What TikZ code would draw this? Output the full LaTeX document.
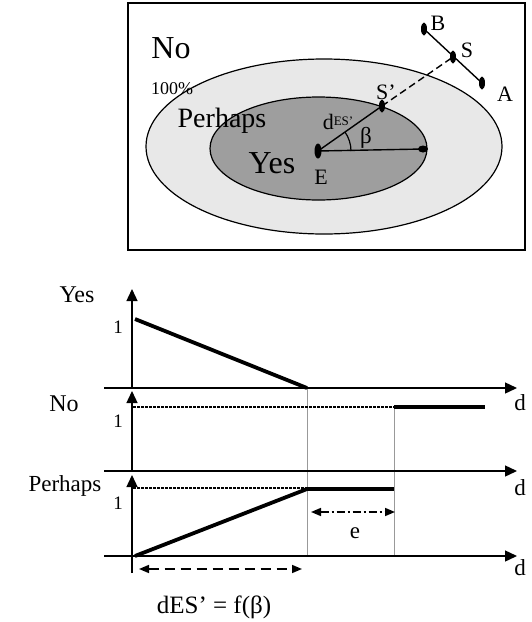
\documentclass[tikz,border=0pt]{standalone}
\usepackage{fontspec}
\setmainfont{Liberation Serif}
\usetikzlibrary{arrows.meta,shapes.geometric}
\begin{document}
\begin{tikzpicture}[x=1pt,y=-1pt,
  fs/.style={font=\fontsize{#1}{#1}\selectfont, inner sep=0pt},
  pt/.style={ellipse, fill=black, inner sep=0pt, minimum width=#1},
  axisline/.style={line width=1.4pt,-{Triangle[length=12pt,width=11pt]}},
  heavy/.style={line width=3.8pt},
  onaxis/.style={line width=2.6pt},
  dotline/.style={line width=2.2pt,dash pattern=on 3pt off 1pt},
  guide/.style={black!40,line width=1pt},
  dim/.style={line width=1.6pt,{Triangle[length=10pt,width=8pt]}-{Triangle[length=10pt,width=8pt]}}
]
\useasboundingbox (0,0) rectangle (532,622);
% ---------- top diagram ----------
\draw[line width=1.5pt] (128,3) rectangle (525,250);
\draw[line width=1.2pt, fill=black!9] (324,146.5) ellipse (178 and 87.5);
\draw[line width=1.2pt, fill=black!38] (318.5,148.5) ellipse (108.5 and 51.5);

\node[pt=7pt, minimum height=15pt] (E) at (318,151) {};
\node[pt=10pt, minimum height=7pt] (R) at (423,149) {};
\node[pt=6pt, minimum height=13pt] (Sp) at (382,106) {};
\node[pt=6pt, minimum height=13pt] (S) at (453,57) {};
\node[pt=6pt, minimum height=13pt] (B) at (424,29) {};
\node[pt=6pt, minimum height=13pt] (A) at (482,83) {};

\draw[line width=1.4pt] (E.center) -- (R.center);
\draw[line width=1.4pt] (E.center) -- (Sp.center);
\draw[line width=1.4pt, dash pattern=on 7pt off 4pt] (Sp.center) -- (S.center);
\draw[line width=1.4pt] (B.center) -- (A.center);
\draw[line width=1.2pt] ([shift={(0:33)}]E.center) arc[start angle=0,end angle=-35,radius=33];

\node[fs=32] (lno) at (171,48) {No};
\node[fs=18] (lpct) at (172,89) {100\%};
\node[fs=28] (lper) at (222,121) {Perhaps};
\node[fs=32] (lyes) at (272,163) {Yes};
\node[fs=22] (lE) at (321,177) {E};
\node[fs=22] (lB) at (438,23) {B};
\node[fs=22] (lS) at (467,50) {S};
\node[fs=22] (lA) at (505,94) {A};
\node[fs=22] (lSp) at (386,92) {S’};
\node[fs=22] (ld) at (338,122) {d\raisebox{4pt}{\fontsize{13}{13}\selectfont ES’}};
\node[fs=23] (lbeta) at (366,138) {β};

% ---------- bottom charts ----------
\coordinate (y0) at (104,388); \coordinate (y1) at (517,388);
\coordinate (n0) at (104,471); \coordinate (n1) at (517,471);
\coordinate (p0) at (104,556); \coordinate (p1) at (517,556);
\coordinate (vy0) at (132,388); \coordinate (vy1) at (132,289);
\coordinate (vn0) at (132,471); \coordinate (vn1) at (132,391);
\coordinate (vp0) at (132,573); \coordinate (vp1) at (132,475);

\draw[guide] (307,388) -- (307,556);
\draw[guide] (394,407) -- (394,556);

\draw[axisline] (y0) -- (y1);
\draw[axisline] (n0) -- (n1);
\draw[axisline] (p0) -- (p1);
\draw[axisline] (vy0) -- (vy1);
\draw[axisline] (vn0) -- (vn1);
\draw[axisline] (vp0) -- (vp1);

% Yes
\draw[heavy] (135,319) -- (307,388);
\draw[onaxis] (307,388) -- (485,388);
% No
\draw[dotline] (133,407) -- (394,407);
\draw[heavy] (394,407) -- (485,407);
\draw[onaxis] (133,471) -- (394,471);
% Perhaps
\draw[dotline] (133,488) -- (394,488);
\draw[heavy] (135,556) -- (307,489);
\draw[heavy] (307,489) -- (394,489);
\draw[onaxis] (394,556) -- (485,556);

\draw[dim, dash pattern=on 8pt off 3pt on 2pt off 3pt] (311,512) -- (395,512);
\draw[dim, dash pattern=on 10pt off 6pt] (139,569) -- (302,569);

\node[fs=24] (tyes) at (77,295) {Yes};
\node[fs=24] (tno) at (64,404) {No};
\node[fs=23] (tper) at (65,486) {Perhaps};
\node[fs=19] (one1) at (118,327) {1};
\node[fs=19] (one2) at (118,421) {1};
\node[fs=19] (one3) at (118,503) {1};
\node[fs=23] (d1) at (520,403) {d};
\node[fs=23] (d2) at (520,488) {d};
\node[fs=23] (d3) at (520,568) {d};
\node[fs=23] (te) at (355,533) {e};
\node[fs=25] (tf) at (214,607) {dES’ = f(β)};
\end{tikzpicture}
\end{document}
